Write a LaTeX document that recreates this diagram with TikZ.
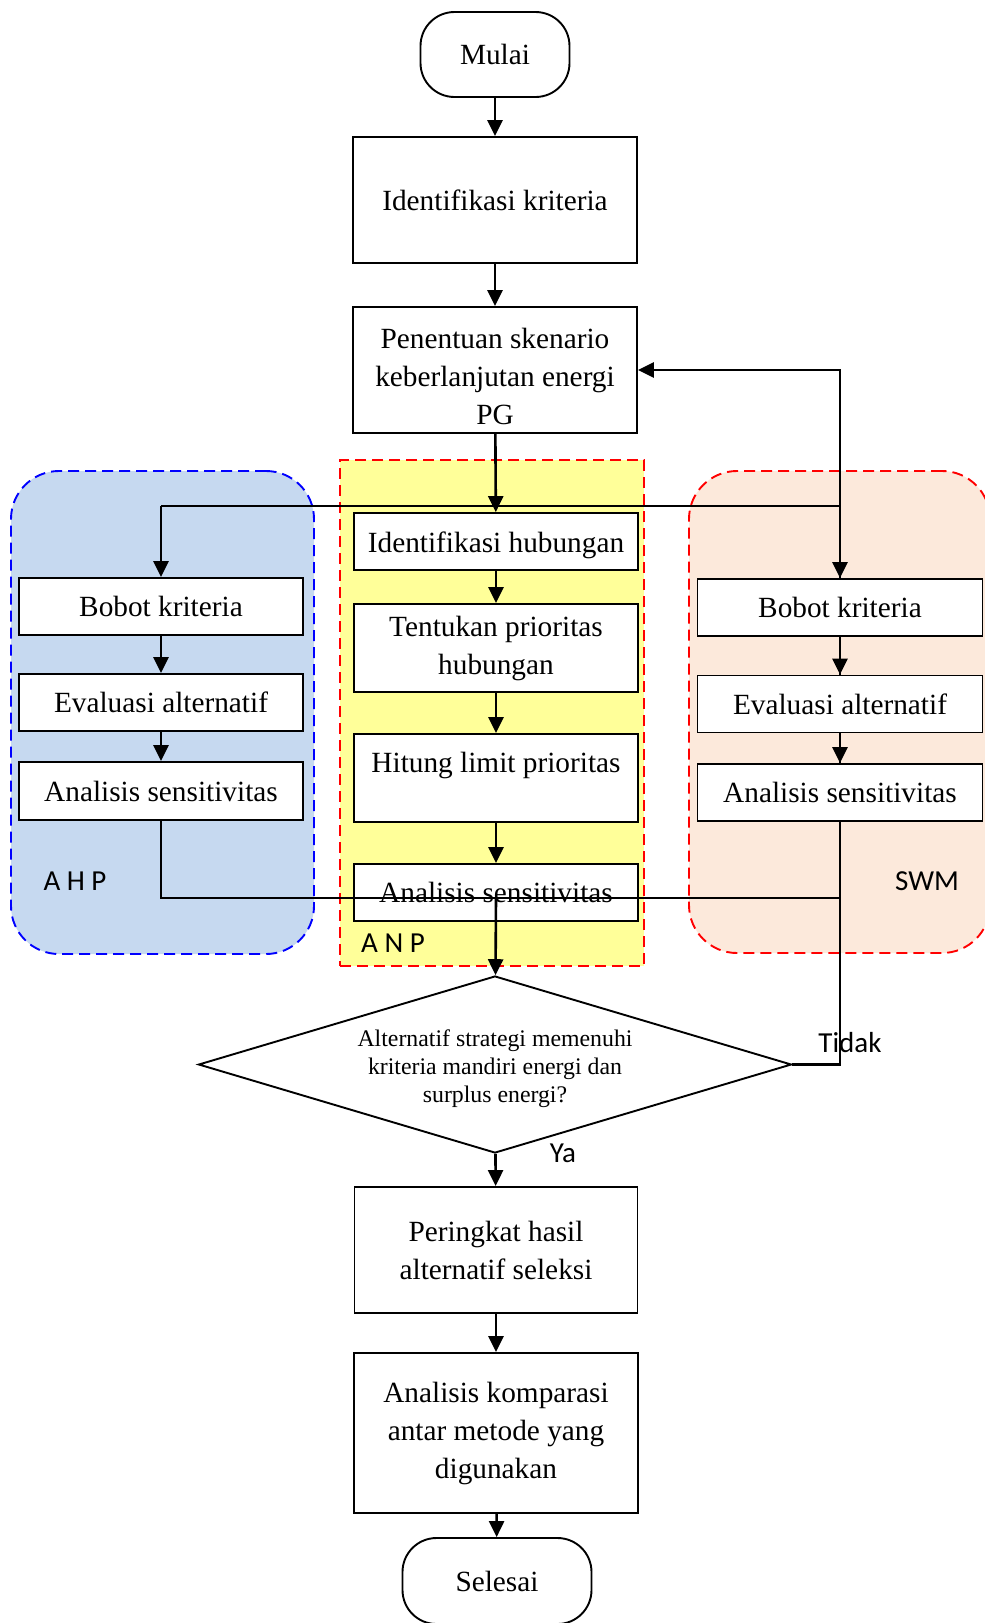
\documentclass[tikz,border=0pt]{standalone}
\usepackage{fontspec}
\setmainfont{Liberation Serif}
\newfontfamily\labelfont{Carlito}
\usetikzlibrary{arrows.meta,shapes.geometric}

\definecolor{ahpfill}{RGB}{198,217,240}
\definecolor{anpfill}{RGB}{255,255,153}
\definecolor{swmfill}{RGB}{252,233,219}

\pgfdeclarelayer{back}
\pgfdeclarelayer{mid}
\pgfsetlayers{back,mid,main}

\begin{document}
\begin{tikzpicture}[x=1pt,y=-1pt,
  box/.style={draw, line width=1.9pt, fill=white, rectangle, inner sep=0pt,
    align=center, font=\fontsize{29.3}{38}\selectfont},
  wide/.style={box, minimum width=284pt},
  term/.style={box, rounded corners=34pt},
  conn/.style={line width=2.6pt},
  arr/.style={conn, -{Triangle[length=16pt,width=15pt]}},
  grp/.style={line width=1.9pt, dash pattern=on 11pt off 6pt, inner sep=0pt},
  tag/.style={font=\labelfont\fontsize{29}{34}\selectfont, inner sep=0pt},
]
\useasboundingbox (0,0) rectangle (985,1623);

% method groups
\begin{pgfonlayer}{back}
\node[grp, draw=blue, fill=ahpfill, rounded corners=48pt,
  minimum width=303pt, minimum height=483pt] (ahp) at (162.5,712.5) {};
\node[grp, draw=red, fill=anpfill,
  minimum width=304pt, minimum height=506pt] (anp) at (492,713) {};
\node[grp, draw=red, fill=swmfill, rounded corners=48pt,
  minimum width=301pt, minimum height=482pt] (swm) at (839.5,712) {};
\end{pgfonlayer}

% main column
\node[term, minimum width=149pt, minimum height=85pt] (mulai) at (495,54.5) {Mulai};
\node[wide, minimum height=126pt] (idk) at (495,200) {Identifikasi kriteria};
\node[wide, minimum height=126pt] (pen) at (495,370) {\strut\\[-31pt]Penentuan skenario\\keberlanjutan energi\\PG};

% AHP
\node[wide, minimum height=57pt] (bobA) at (161,606.5) {Bobot kriteria};
\node[wide, minimum height=57pt] (evaA) at (161,702.5) {Evaluasi alternatif};
\node[wide, minimum height=58pt] (anaA) at (161,791) {Analisis sensitivitas};

% SWM
\node[wide, minimum width=285pt, minimum height=57pt] (bobS) at (840,607.5) {Bobot kriteria};
\node[wide, minimum width=285pt, minimum height=57pt] (evaS) at (840,704) {Evaluasi alternatif};
\node[wide, minimum width=285pt, minimum height=57pt] (anaS) at (840,792.5) {Analisis sensitivitas};

% ANP
\node[wide, minimum height=57pt] (idh) at (496,541.5) {\strut\\[-37pt]Identifikasi hubungan};
\node[wide, minimum height=88pt] (ten) at (496,648) {Tentukan prioritas\\hubungan};
\node[wide, minimum height=88pt] (hit) at (496,778) {Hitung limit prioritas\\[-18pt]\strut};
\node[wide, minimum height=57pt] (anaN) at (496,892.5) {Analisis sensitivitas};

% decision and lower part
\node[diamond, draw, line width=1.9pt, fill=white, shape aspect=3.35,
  minimum width=593pt, minimum height=177pt, inner sep=0pt, align=center,
  font=\fontsize{23.8}{28}\selectfont] (dia) at (495,1064.5)
  {\strut\\[-23pt]Alternatif strategi memenuhi\\kriteria mandiri energi dan\\surplus energi?};
\node[wide, minimum width=283pt, minimum height=126pt] (per) at (496,1250) {Peringkat hasil\\alternatif seleksi};
\node[wide, minimum height=160pt] (kom) at (496,1433) {Analisis komparasi\\antar metode yang\\digunakan};
\node[term, minimum width=189pt, minimum height=86pt] (sel) at (497,1581) {Selesai};

% group labels
\node[tag] (ahpl) at (75,881) {A H P};
\node[tag] (swml) at (927,881) {SWM};
\node[tag] (anpl) at (393,943) {A N P};
\node[tag] (tidak) at (850,1043) {Tidak};
\node[tag] (ya) at (563,1153) {Ya};

% junction points
\coordinate (jL) at (161,506);
\coordinate (jR) at (840,506);
\coordinate (mL) at (161,898);
\coordinate (mR) at (840,898);
\coordinate (mC) at (496,898);
\coordinate (tR) at (840,1064.5);

% feedback loop, runs behind the SWM boxes
\begin{pgfonlayer}{mid}
\draw[arr] (dia.east) -- (tR) -- (tR |- pen.east) -- (pen.east);
\end{pgfonlayer}

% connectors
\draw[arr] (mulai) -- (idk);
\draw[arr] (idk) -- (pen);
\draw[arr] (pen) -- (idh);
\draw[conn] (jL) -- (jR);
\draw[arr] (jL) -- (bobA);
\draw[arr] (jR) -- (bobS);
\draw[arr] (bobA) -- (evaA);
\draw[arr] (evaA) -- (anaA);
\draw[arr] (bobS) -- (evaS);
\draw[arr] (evaS) -- (anaS);
\draw[arr] (idh) -- (ten);
\draw[arr] (ten) -- (hit);
\draw[arr] (hit) -- (anaN);
\draw[conn] (anaA) -- (mL) -- (mR);
\draw[arr] (mC) -- (dia);
\draw[arr] (dia) -- (per);
\draw[arr] (per) -- (kom);
\draw[arr] (kom) -- (sel);
\end{tikzpicture}
\end{document}
